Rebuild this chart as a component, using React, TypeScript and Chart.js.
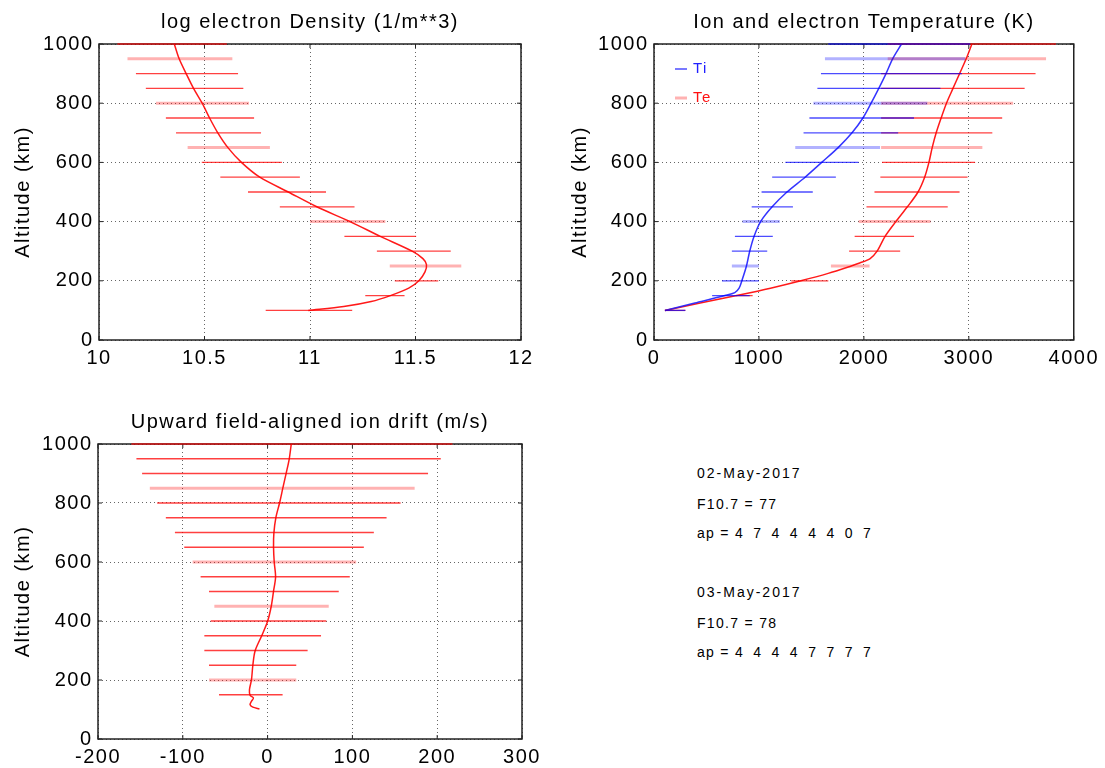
import React, { useEffect, useRef } from "react";
import { Chart, registerables } from "chart.js";

Chart.register(...registerables);

const FONT = "'Liberation Sans', Arial, Helvetica, sans-serif";

// ---------- Panel 1: log electron density ----------
const barAlt = [1000, 950, 900, 850, 800, 750, 700, 650, 600, 550, 500, 450, 400, 350, 300, 250, 200, 150, 100];
const densLo = [10.087, 10.135, 10.175, 10.222, 10.27, 10.317, 10.365, 10.42, 10.487, 10.575, 10.706, 10.857, 11.0, 11.163, 11.317, 11.378, 11.402, 11.262, 10.79];
const densHi = [10.606, 10.632, 10.659, 10.684, 10.711, 10.735, 10.768, 10.81, 10.867, 10.952, 11.076, 11.211, 11.357, 11.503, 11.667, 11.717, 11.608, 11.448, 11.2];
const densCurveAlt = [1000, 950, 900, 850, 800, 750, 700, 650, 600, 550, 500, 450, 400, 350, 300, 275, 255, 230, 200, 175, 150, 130, 113, 100];
const densCurve = [10.357, 10.38, 10.413, 10.448, 10.489, 10.524, 10.563, 10.611, 10.675, 10.762, 10.897, 11.032, 11.19, 11.333, 11.484, 11.535, 11.552, 11.545, 11.516, 11.468, 11.381, 11.29, 11.16, 10.992];
const faintTop = [950, 800, 650, 400, 250];

// ---------- Panel 2: ion / electron temperature ----------
const tiLo = [1661, 1629, 1591, 1557, 1519, 1481, 1425, 1346, 1252, 1126, 1025, 931, 843, 771, 742, 742, 648, 554, 104];
const tiHi = [3013, 2966, 2934, 2730, 2604, 2478, 2327, 2154, 1950, 1733, 1513, 1324, 1198, 1132, 1079, 1000, 1000, 912, 299];
const teLo = [2227, 2227, 2164, 2164, 2164, 2164, 2164, 2164, 2173, 2157, 2101, 2025, 1950, 1912, 1859, 1686, 1308, 780, 104];
const teHi = [3831, 3736, 3636, 3532, 3422, 3318, 3224, 3129, 3060, 2988, 2912, 2799, 2636, 2478, 2346, 2054, 1661, 940, 299];
const tiCurveAlt = [1000, 950, 900, 850, 800, 750, 700, 650, 600, 550, 500, 450, 400, 350, 300, 250, 200, 175, 160, 150, 125, 100];
const tiCurve = [2359, 2274, 2211, 2142, 2069, 1991, 1887, 1755, 1598, 1440, 1267, 1126, 1016, 953, 912, 881, 837, 811, 770, 676, 390, 104];
const teCurveAlt = [1000, 950, 900, 850, 800, 750, 700, 650, 600, 550, 500, 450, 400, 350, 300, 275, 260, 250, 225, 200, 175, 152, 125, 100];
const teCurve = [3029, 2975, 2912, 2849, 2787, 2736, 2689, 2651, 2620, 2579, 2516, 2415, 2305, 2202, 2126, 2060, 1960, 1880, 1660, 1400, 1110, 811, 440, 104];

// ---------- Panel 3: field-aligned ion drift ----------
const driftAlt = [1000, 950, 900, 850, 800, 750, 700, 650, 600, 550, 500, 450, 400, 350, 300, 250, 200, 150];
const driftLo = [-160.6, -154.7, -148, -138.9, -130.2, -120, -109.3, -98.3, -88.4, -79, -69.1, -62.8, -67.1, -74.6, -74.6, -69.1, -69.1, -57.3];
const driftHi = [218, 204.2, 189.2, 173.4, 156.8, 140.3, 125.3, 113.5, 104.4, 96.9, 83.9, 72.1, 69.3, 63, 47.2, 33.8, 33.8, 17.7];
const faintDrift = [850, 600, 450, 200];
const driftCurveAlt = [1000, 949, 902, 851, 800, 751, 698, 651, 600, 549, 501, 450, 399, 351, 299, 250, 201, 167, 148, 139, 128, 116, 108, 102];
const driftCurve = [27.9, 25.5, 22.0, 18.0, 14.1, 9.8, 7.4, 7.0, 7.8, 9.4, 7.0, 4.3, 0, -6.8, -14.7, -17.4, -19.0, -21.4, -20.6, -16.7, -19.0, -20.6, -17.4, -9.6];

// ---------- Text block ----------
const infoDates = ["02-May-2017", "03-May-2017"];
const infoF107 = ["77", "78"];
const infoAp = ["4 7 4 4 4 4 0 7", "4 4 4 4 7 7 7 7"];
const infoTop = [473, 592];

const RED = "rgba(255,0,0,0.75)";
const RED_FAINT = "rgba(255,0,0,0.3)";
const BLUE = "rgba(0,0,255,0.7)";
const BLUE_FAINT = "rgba(0,0,255,0.3)";

function seg(points: { x: number; y: number }[], color: string, width: number, extra: any = {}) {
  return {
    data: points,
    borderColor: color,
    backgroundColor: color,
    borderWidth: width,
    showLine: true,
    pointRadius: 0,
    fill: false,
    clip: false,
    tension: 0,
    ...extra,
  };
}

function errorBars(alts: number[], lo: number[], hi: number[], faint: number[], dark: string, light: string) {
  return alts.map((a, i) => {
    const isFaint = faint.includes(a);
    return seg([{ x: lo[i], y: a }, { x: hi[i], y: a }], isFaint ? light : dark, isFaint ? 3 : 1.3);
  });
}

function curve(alts: number[], vals: number[], color: string) {
  return seg(alts.map((a, i) => ({ x: vals[i], y: a })), color, 1.5, { tension: 0.3 });
}

const spacingPlugin = {
  id: "spacing",
  beforeLayout(chart: any) {
    chart.ctx.letterSpacing = "1.5px";
  },
  beforeDraw(chart: any) {
    chart.ctx.letterSpacing = "1.5px";
  },
};

const framePlugin = {
  id: "frame",
  beforeDatasetsDraw(chart: any) {
    const { ctx, chartArea: a, scales } = chart;
    ctx.save();
    ctx.strokeStyle = "#222";
    ctx.lineWidth = 1.5;
    ctx.strokeRect(a.left, a.top, a.right - a.left, a.bottom - a.top);
    ctx.lineWidth = 1;
    const L = 4;
    ctx.beginPath();
    scales.x.ticks.forEach((t: any) => {
      const px = scales.x.getPixelForValue(t.value);
      ctx.moveTo(px, a.bottom);
      ctx.lineTo(px, a.bottom - L);
      ctx.moveTo(px, a.top);
      ctx.lineTo(px, a.top + L);
    });
    scales.y.ticks.forEach((t: any) => {
      const py = scales.y.getPixelForValue(t.value);
      ctx.moveTo(a.left, py);
      ctx.lineTo(a.left + L, py);
      ctx.moveTo(a.right, py);
      ctx.lineTo(a.right - L, py);
    });
    ctx.stroke();
    ctx.restore();
  },
};

const tempLegendPlugin = {
  id: "tempLegend",
  afterDatasetsDraw(chart: any) {
    const { ctx, chartArea: a } = chart;
    ctx.save();
    ctx.font = `15px ${FONT}`;
    ctx.textBaseline = "middle";
    ctx.textAlign = "left";
    const x0 = a.left + 21;
    const items = [
      { label: "Ti", line: BLUE, text: "#2020ff", w: 1.5, dy: 25 },
      { label: "Te", line: RED_FAINT, text: "#ff1010", w: 3, dy: 54 },
    ];
    items.forEach((it) => {
      ctx.strokeStyle = it.line;
      ctx.lineWidth = it.w;
      ctx.beginPath();
      ctx.moveTo(x0, a.top + it.dy);
      ctx.lineTo(x0 + 12, a.top + it.dy);
      ctx.stroke();
      ctx.fillStyle = it.text;
      ctx.fillText(it.label, x0 + 18, a.top + it.dy);
    });
    ctx.restore();
  },
};

function makeConfig(opts: {
  title: string;
  datasets: any[];
  xmin: number;
  xmax: number;
  xstep: number;
  yWidth: number;
  xHeight: number;
  padRight: number;
  yTitlePad: number;
  extraPlugins?: any[];
}) {
  const tickFont = { family: FONT, size: 20 };
  return {
    type: "scatter" as const,
    data: { datasets: opts.datasets },
    plugins: [spacingPlugin, framePlugin, ...(opts.extraPlugins || [])],
    options: {
      responsive: false,
      animation: false,
      events: [],
      layout: { padding: { left: 0, right: opts.padRight, top: 0, bottom: 0 } },
      elements: { point: { radius: 0 } },
      plugins: {
        legend: { display: false },
        tooltip: { enabled: false },
        title: {
          display: true,
          fullSize: false,
          text: opts.title,
          color: "#000",
          font: { family: FONT, size: 20, weight: "normal" },
          padding: { top: 10, bottom: 10 },
        },
      },
      scales: {
        x: {
          type: "linear",
          min: opts.xmin,
          max: opts.xmax,
          ticks: {
            stepSize: opts.xstep,
            color: "#000",
            font: tickFont,
            padding: 6,
            maxRotation: 0,
            callback: (v: any) => String(v),
          },
          grid: { color: "rgba(0,0,0,0.6)", lineWidth: 1, drawTicks: false },
          border: { display: false, dash: [1, 3] },
          afterFit: (s: any) => {
            s.height = opts.xHeight;
          },
        },
        y: {
          type: "linear",
          min: 0,
          max: 1000,
          ticks: {
            stepSize: 200,
            color: "#000",
            font: tickFont,
            padding: 5.5,
            callback: (v: any) => String(v),
          },
          title: {
            display: true,
            text: "Altitude (km)",
            color: "#000",
            font: { family: FONT, size: 20 },
            padding: { top: opts.yTitlePad, bottom: 0 },
          },
          grid: { color: "rgba(0,0,0,0.6)", lineWidth: 1, drawTicks: false },
          border: { display: false, dash: [1, 3] },
          afterFit: (s: any) => {
            s.width = opts.yWidth;
          },
        },
      },
    },
  };
}

function ChartBox(props: { left: number; top: number; width: number; height: number; build: () => any }) {
  const ref = useRef<HTMLCanvasElement>(null);
  useEffect(() => {
    const chart = new Chart(ref.current as HTMLCanvasElement, props.build());
    return () => chart.destroy();
  }, []);
  return (
    <canvas
      ref={ref}
      width={props.width}
      height={props.height}
      style={{ position: "absolute", left: props.left, top: props.top, width: props.width, height: props.height }}
    />
  );
}

const buildDensity = () =>
  makeConfig({
    title: "log electron Density (1/m**3)",
    datasets: [
      ...errorBars(barAlt, densLo, densHi, faintTop, RED, RED_FAINT),
      curve(densCurveAlt, densCurve, "rgba(255,0,0,0.9)"),
    ],
    xmin: 10,
    xmax: 12,
    xstep: 0.5,
    yWidth: 99,
    xHeight: 40,
    padRight: 29,
    yTitlePad: 11,
  });

const buildTemp = () =>
  makeConfig({
    title: "Ion and electron Temperature (K)",
    datasets: [
      ...errorBars(barAlt, tiLo, tiHi, faintTop, BLUE, BLUE_FAINT),
      ...errorBars(barAlt, teLo, teHi, faintTop, RED, RED_FAINT),
      curve(tiCurveAlt, tiCurve, "rgba(30,30,255,0.9)"),
      curve(teCurveAlt, teCurve, "rgba(255,0,0,0.9)"),
    ],
    xmin: 0,
    xmax: 4000,
    xstep: 1000,
    yWidth: 94,
    xHeight: 40,
    padRight: 28,
    yTitlePad: 8,
    extraPlugins: [tempLegendPlugin],
  });

const buildDrift = () =>
  makeConfig({
    title: "Upward field-aligned ion drift (m/s)",
    datasets: [
      ...errorBars(driftAlt, driftLo, driftHi, faintDrift, RED, RED_FAINT),
      curve(driftCurveAlt, driftCurve, "rgba(255,0,0,0.9)"),
    ],
    xmin: -200,
    xmax: 300,
    xstep: 100,
    yWidth: 98,
    xHeight: 29,
    padRight: 28,
    yTitlePad: 11,
  });

const lineStyle = (top: number, spacing: number): React.CSSProperties => ({
  position: "absolute",
  left: 697,
  top: top - 8,
  height: 16,
  lineHeight: "16px",
  fontFamily: FONT,
  fontSize: 14,
  letterSpacing: `${spacing}px`,
  whiteSpace: "pre",
  color: "#000",
});

export default function App() {
  return (
    <div style={{ position: "absolute", left: 0, top: 0, width: 1105, height: 768, background: "#fff", overflow: "hidden" }}>
      <ChartBox left={0} top={0} width={550} height={380} build={buildDensity} />
      <ChartBox left={560} top={0} width={545} height={380} build={buildTemp} />
      <ChartBox left={0} top={400} width={550} height={368} build={buildDrift} />
      {infoDates.map((d, i) => (
        <React.Fragment key={i}>
          <div style={lineStyle(infoTop[i], 2)}>{d}</div>
          <div style={lineStyle(infoTop[i] + 31, 1.3)}>{`F10.7 = ${infoF107[i]}`}</div>
          <div style={lineStyle(infoTop[i] + 60, 1.3)}>
            {"ap = "}
            <span style={{ wordSpacing: "4px" }}>{infoAp[i]}</span>
          </div>
        </React.Fragment>
      ))}
    </div>
  );
}
